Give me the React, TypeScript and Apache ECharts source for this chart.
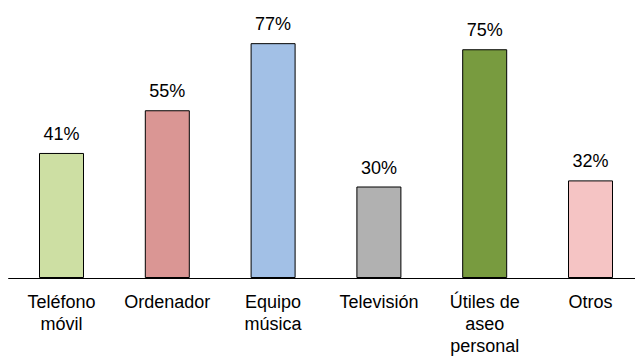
import React, { useEffect, useRef } from "react";
import * as echarts from "echarts";

const categories = ["Teléfono\nmóvil", "Ordenador", "Equipo\nmúsica", "Televisión", "Útiles de\naseo\npersonal", "Otros"];
const values = [41, 55, 77, 30, 75, 32];
const colors = ["#cddfa3", "#da9694", "#a2c0e6", "#b1b1b1", "#789b3f", "#f5c4c4"];

export default function App() {
  const ref = useRef<HTMLDivElement>(null);
  useEffect(() => {
    const chart = echarts.init(ref.current!, null, { renderer: "svg" });
    chart.setOption({
      animation: false,
      grid: { left: 8.6, width: 634.8, top: 0, bottom: 78, containLabel: false },
      xAxis: {
        type: "category",
        data: categories,
        axisLine: { lineStyle: { color: "#000", width: 1 } },
        axisTick: { show: false },
        axisLabel: {
          color: "#000",
          fontFamily: "Liberation Sans",
          fontSize: 18,
          lineHeight: 22,
          margin: 13,
          interval: 0,
        },
      },
      yAxis: { type: "value", min: 0, max: 91.15, show: false, splitLine: { show: false } },
      series: [
        {
          type: "bar",
          barWidth: 45,
          data: values.map((v, i) => ({ value: v, itemStyle: { color: colors[i] } })),
          itemStyle: { borderColor: "#000", borderWidth: 1 },
          label: {
            show: true,
            position: "top",
            distance: 10,
            formatter: "{c}%",
            color: "#000",
            fontFamily: "Liberation Sans",
            fontSize: 18,
          },
        },
      ],
    });
    return () => chart.dispose();
  }, []);
  return <div ref={ref} style={{ position: "absolute", left: 0, top: 0, width: 660, height: 357 }} />;
}
